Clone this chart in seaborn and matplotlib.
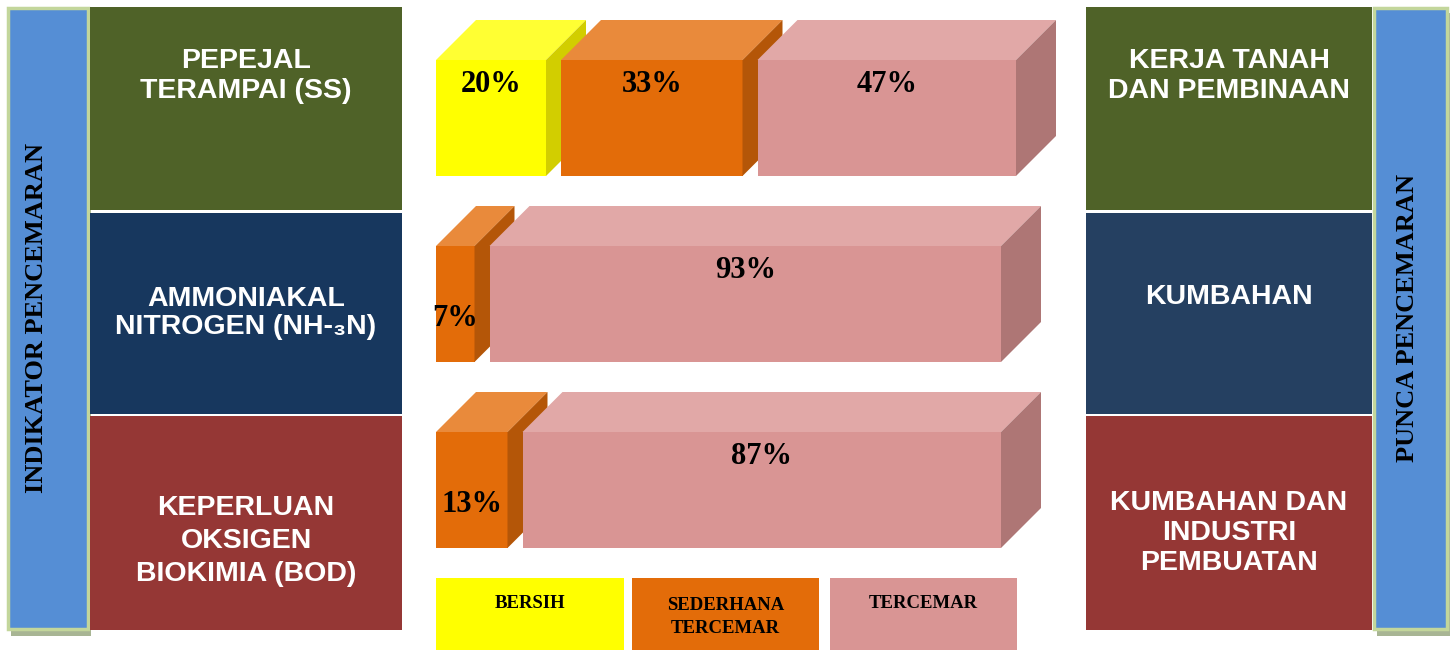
import numpy as np
import pandas as pd
import matplotlib.pyplot as plt
import seaborn as sns
from matplotlib.patches import Rectangle, Polygon

# Data
indicators = ['PEPEJAL\nTERAMPAI (SS)', 'AMMONIAKAL\nNITROGEN (NH-₃N)', 'KEPERLUAN\nOKSIGEN\nBIOKIMIA (BOD)']
sources = ['KERJA TANAH\nDAN PEMBINAAN', 'KUMBAHAN', 'KUMBAHAN DAN\nINDUSTRI\nPEMBUATAN']
classes = ['BERSIH', 'SEDERHANA\nTERCEMAR', 'TERCEMAR']
bersih = [20, 0, 0]
sederhana = [33, 7, 13]
tercemar = [47, 93, 87]

rows = []
for i, ind in enumerate(indicators):
    for cls, vals in zip(classes, [bersih, sederhana, tercemar]):
        if vals[i] > 0:
            rows.append({'indicator': ind, 'row': i, 'class': cls, 'value': vals[i]})
df = pd.DataFrame(rows)

# colours: front, top, side
face_cols = {
    'BERSIH': ('#FFFF00', '#FFFF33', '#D2CE00'),
    'SEDERHANA\nTERCEMAR': ('#E36C09', '#E98A3B', '#B45608'),
    'TERCEMAR': ('#D99594', '#E1A8A7', '#AE7675'),
}
box_left = ['#4F6228', '#17375E', '#953735']
box_right = ['#4F6228', '#254061', '#953735']

sns.set_theme(style='white')
sans = ['Liberation Sans', 'DejaVu Sans']
serif = ['Liberation Serif', 'DejaVu Serif']

W, H = 1454, 650
fig = plt.figure(figsize=(W / 100, H / 100), dpi=100)
fig.patch.set_facecolor('white')

def frac(x0, y0, x1, y1):
    return [x0 / W, 1 - y1 / H, (x1 - x0) / W, (y1 - y0) / H]

# background layer in pixel units
bg = fig.add_axes([0, 0, 1, 1], zorder=0)
bg.set_xlim(0, W)
bg.set_ylim(H, 0)
bg.axis('off')

# side banners with shadow
for x0, w, label, tx in [(7.5, 80, 'INDIKATOR PENCEMARAN', 37), (1373.5, 73, 'PUNCA PENCEMARAN', 1408)]:
    bg.add_patch(Rectangle((x0 + 3, 13), w, 623, fc='#A8B594', ec='none'))
    bg.add_patch(Rectangle((x0, 7.5), w, 621, fc='#558ED5', ec='#C3D69B', lw=2.5))
    bg.text(tx, 318, label, rotation=90, ha='center', va='center', fontsize=19,
            fontweight='bold', family=serif, color='black')

# indicator / source boxes
box_y = [(7, 210), (212.5, 413.5), (416, 630)]
left_ty = [76, 313, 541]
right_ty = [76, 297, 533]
left_ls = [1.15, 1.15, 1.33]
for i, (y0, y1) in enumerate(box_y):
    bg.add_patch(Rectangle((90, y0), 312, y1 - y0, fc=box_left[i], ec='none'))
    bg.add_patch(Rectangle((1086, y0), 286, y1 - y0, fc=box_right[i], ec='none'))
    bg.text(246, left_ty[i], indicators[i], ha='center', va='center', color='white',
            fontsize=20.5, fontweight='bold', family=sans, linespacing=left_ls[i])
    bg.text(1229, right_ty[i], sources[i], ha='center', va='center', color='white',
            fontsize=20.5, fontweight='bold', family=sans, linespacing=1.2)

# legend boxes
leg_x = [(436, 624), (632, 819), (830, 1017)]
for cls, (x0, x1) in zip(classes, leg_x):
    bg.add_patch(Rectangle((x0, 578), x1 - x0, 72, fc=face_cols[cls][0], ec='none'))
    ty = 617 if '\n' in cls else 603
    bg.text((x0 + x1) / 2, ty, cls, ha='center', va='center', fontsize=13.5,
            fontweight='bold', family=serif, color='black', linespacing=1.5)

# 3D bars
PX = 5.5           # pixels per percent
ROW = 186          # pixels per row
ax = fig.add_axes(frac(436, 25, 1060, 583), zorder=1)
ax.patch.set_alpha(0)
ax.set_xlim(0, (1060 - 436) / PX)
ax.set_ylim(2.5, -0.5)
ax.axis('off')

gap = 15 / PX
dx, dy = 40 / PX, 40 / ROW
h = 116 / ROW
z = 2
for r, grp in df.groupby('row'):
    left = 0.0
    for _, seg in grp.iterrows():
        v = seg['value']
        front, top, side = face_cols[seg['class']]
        yt = r - h / 2
        ax.barh(r, v, left=left, height=h, color=front, edgecolor='none', linewidth=0,
                zorder=z, clip_on=False)
        ax.add_patch(Polygon([(left, yt), (left + dx, yt - dy), (left + v + dx, yt - dy), (left + v, yt)],
                             closed=True, fc=top, ec='none', lw=0, zorder=z, clip_on=False))
        ax.add_patch(Polygon([(left + v, yt), (left + v + dx, yt - dy), (left + v + dx, yt + h - dy), (left + v, yt + h)],
                             closed=True, fc=side, ec='none', lw=0, zorder=z, clip_on=False))
        ly = yt + 24 / ROW if v >= 15 else r + 14 / ROW
        ax.text(left + v / 2, ly, f'{v}%', ha='center', va='center', fontsize=22,
                fontweight='bold', family=serif, color='black', zorder=10)
        left += v + gap
        z += 1

fig.savefig('out.png', dpi=100)
